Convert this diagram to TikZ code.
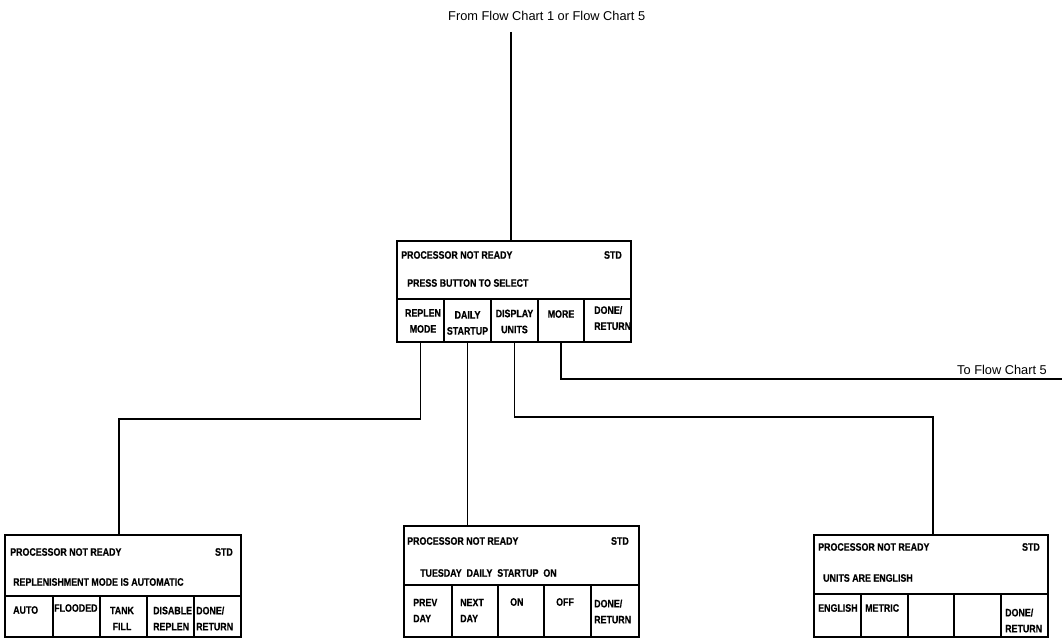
\documentclass[tikz,border=0pt]{standalone}
\usepackage{fontspec}
\setmainfont{Liberation Sans}
\newfontfamily\narrowfont[FakeStretch=0.82,FakeBold=0.5]{Liberation Sans Bold}
\newcommand\bxfont{\narrowfont\fontsize{10.8}{16}\selectfont}
\newcommand\lbfont{\fontsize{12.8}{15}\selectfont}
\begin{document}
\begin{tikzpicture}[x=1pt,y=-1pt,
  frame/.style={draw,line width=1.2pt,anchor=north west,inner sep=0pt,outer sep=0pt},
  txt/.style={font=\bxfont,inner sep=0pt,anchor=west},
  txtr/.style={font=\bxfont,inner sep=0pt,anchor=east},
  btnc/.style={font=\bxfont,inner sep=0pt,align=center},
  btnl/.style={font=\bxfont,inner sep=0pt,align=left,anchor=west},
  lbl/.style={font=\lbfont,inner sep=0pt,anchor=west},
  wire/.style={line width=1.2pt}]
\useasboundingbox (0,0) rectangle (1062,639);

% ---------- top panel ----------
\node[frame,minimum width=234pt,minimum height=58pt] (T) at (397,241) {};
\node[frame,minimum width=47pt,minimum height=43pt] (T1) at (397,299) {};
\node[frame,minimum width=47pt,minimum height=43pt] (T2) at (444,299) {};
\node[frame,minimum width=47pt,minimum height=43pt] (T3) at (491,299) {};
\node[frame,minimum width=46pt,minimum height=43pt] (T4) at (538,299) {};
\node[frame,minimum width=47pt,minimum height=43pt] (T5) at (584,299) {};
\node[txt] (Tt1) at (401,255) {PROCESSOR NOT READY};
\node[txtr] (Tt2) at (622,255) {STD};
\node[txt] (Tt3) at (407,283) {PRESS BUTTON TO SELECT};
\node[btnc] (Tb1) at (423,321) {REPLEN\\MODE};
\node[btnc] (Tb2) at (467.5,323) {DAILY\\STARTUP};
\node[btnc] (Tb3) at (514.5,321.5) {DISPLAY\\UNITS};
\node[btnc] (Tb4) at (561,314) {MORE};
\node[btnl] (Tb5) at (594,318) {DONE/\\RETURN};

% ---------- left panel ----------
\node[frame,minimum width=236pt,minimum height=61pt] (L) at (5,535) {};
\node[frame,minimum width=48pt,minimum height=41pt] (L1) at (5,596) {};
\node[frame,minimum width=47pt,minimum height=41pt] (L2) at (53,596) {};
\node[frame,minimum width=47pt,minimum height=41pt] (L3) at (100,596) {};
\node[frame,minimum width=47pt,minimum height=41pt] (L4) at (147,596) {};
\node[frame,minimum width=47pt,minimum height=41pt] (L5) at (194,596) {};
\node[txt] (Lt1) at (10,552) {PROCESSOR NOT READY};
\node[txtr] (Lt2) at (233,552) {STD};
\node[txt] (Lt3) at (13,582) {REPLENISHMENT MODE IS AUTOMATIC};
\node[txt] (Lb1) at (13,610) {AUTO};
\node[txt] (Lb2) at (54,608) {FLOODED};
\node[btnc] (Lb3) at (122,618.5) {TANK\\FILL};
\node[btnl] (Lb4) at (153,618.5) {DISABLE\\REPLEN};
\node[btnl] (Lb5) at (196,618.5) {DONE/\\RETURN};

% ---------- middle panel ----------
\node[frame,minimum width=235pt,minimum height=59pt] (M) at (404,526) {};
\node[frame,minimum width=48pt,minimum height=52pt] (M1) at (404,585) {};
\node[frame,minimum width=46pt,minimum height=52pt] (M2) at (452,585) {};
\node[frame,minimum width=46pt,minimum height=52pt] (M3) at (498,585) {};
\node[frame,minimum width=47pt,minimum height=52pt] (M4) at (544,585) {};
\node[frame,minimum width=48pt,minimum height=52pt] (M5) at (591,585) {};
\node[txt] (Mt1) at (407,541) {PROCESSOR NOT READY};
\node[txtr] (Mt2) at (629,541) {STD};
\node[txt] (Mt3) at (420,573) {TUESDAY~ DAILY~ STARTUP~ ON};
\node[btnl] (Mb1) at (413,610.5) {PREV\\DAY};
\node[btnl] (Mb2) at (460,610.5) {NEXT\\DAY};
\node[txt] (Mb3) at (510,602) {ON};
\node[txt] (Mb4) at (556,602) {OFF};
\node[btnl] (Mb5) at (594,611.5) {DONE/\\RETURN};

% ---------- right panel ----------
\node[frame,minimum width=234pt,minimum height=59pt] (R) at (814,535) {};
\node[frame,minimum width=47pt,minimum height=43pt] (R1) at (814,594) {};
\node[frame,minimum width=47pt,minimum height=43pt] (R2) at (861,594) {};
\node[frame,minimum width=46pt,minimum height=43pt] (R3) at (908,594) {};
\node[frame,minimum width=47pt,minimum height=43pt] (R4) at (954,594) {};
\node[frame,minimum width=47pt,minimum height=43pt] (R5) at (1001,594) {};
\node[txt] (Rt1) at (818,547) {PROCESSOR NOT READY};
\node[txtr] (Rt2) at (1040,547) {STD};
\node[txt] (Rt3) at (823,578) {UNITS ARE ENGLISH};
\node[txt] (Rb1) at (818,608) {ENGLISH};
\node[txt] (Rb2) at (865,608) {METRIC};
\node[btnl] (Rb5) at (1005,620.5) {DONE/\\RETURN};

% ---------- labels ----------
\node[lbl] (from) at (448,16) {From Flow Chart 1 or Flow Chart 5};
\node[lbl] (to) at (957,370) {To Flow Chart 5};

% ---------- connectors ----------
\coordinate (src) at (511,32);
\coordinate (j1) at (119,419);
\coordinate (j3) at (933,417);
\coordinate (out5) at (1062,379);
\draw[wire] (src) -- (src |- T.north);
\draw[wire] (T1.south) |- (j1) -- (j1 |- L.north);
\draw[wire] (T2.south) -- (T2.south |- M.north);
\draw[wire] (T3.south) |- (j3) -- (j3 |- R.north);
\draw[wire] (T4.south) |- (out5);
\end{tikzpicture}
\end{document}
